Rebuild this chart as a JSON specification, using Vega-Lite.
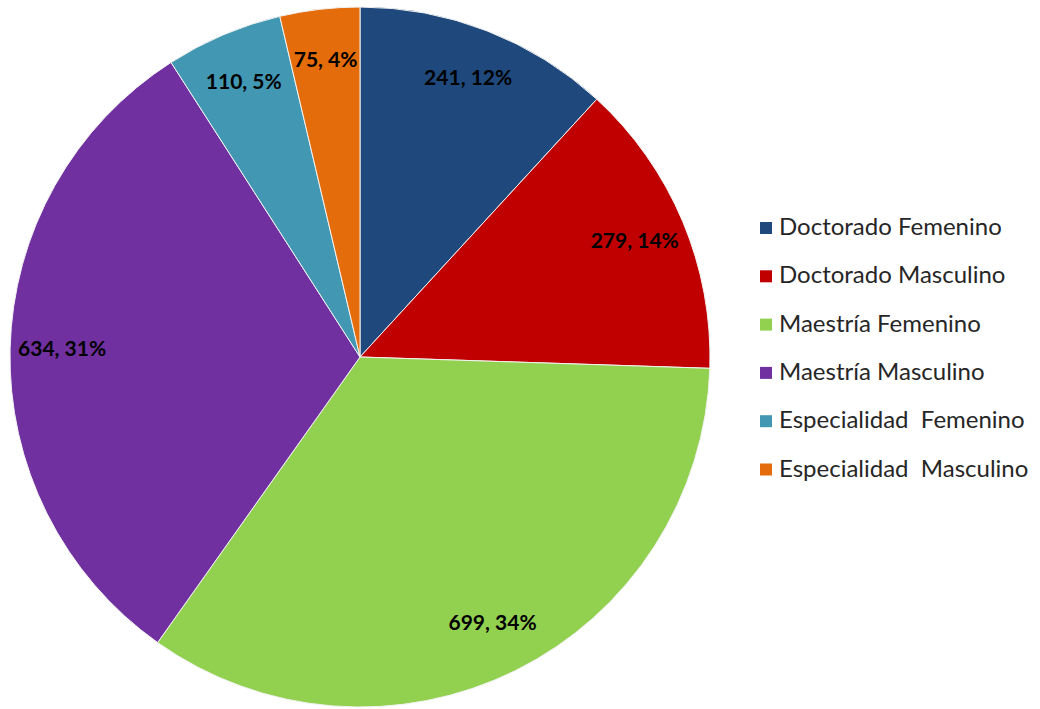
{
  "$schema": "https://vega.github.io/schema/vega-lite/v6.json",
  "width": 720,
  "height": 714,
  "padding": {"left": 0, "top": 0, "right": 5, "bottom": 0},
  "background": "white",
  "data": {
    "values": [
      {"i": 1, "categoria": "Doctorado Femenino", "valor": 241, "etiqueta": "241, 12%"},
      {"i": 2, "categoria": "Doctorado Masculino", "valor": 279, "etiqueta": "279, 14%"},
      {"i": 3, "categoria": "Maestría Femenino", "valor": 699, "etiqueta": "699, 34%"},
      {"i": 4, "categoria": "Maestría Masculino", "valor": 634, "etiqueta": "634, 31%"},
      {"i": 5, "categoria": "Especialidad\u00a0 Femenino", "valor": 110, "etiqueta": "110, 5%"},
      {"i": 6, "categoria": "Especialidad\u00a0 Masculino", "valor": 75, "etiqueta": "75, 4%"}
    ]
  },
  "encoding": {
    "theta": {"field": "valor", "type": "quantitative", "stack": true},
    "order": {"field": "i", "type": "quantitative"},
    "color": {
      "field": "categoria",
      "type": "nominal",
      "sort": ["Doctorado Femenino", "Doctorado Masculino", "Maestría Femenino", "Maestría Masculino", "Especialidad\u00a0 Femenino", "Especialidad\u00a0 Masculino"],
      "scale": {
        "domain": ["Doctorado Femenino", "Doctorado Masculino", "Maestría Femenino", "Maestría Masculino", "Especialidad\u00a0 Femenino", "Especialidad\u00a0 Masculino"],
        "range": ["#1F497D", "#C00000", "#92D050", "#7030A0", "#4298B3", "#E46C0A"]
      },
      "legend": {
        "title": null,
        "orient": "none",
        "legendX": 754,
        "legendY": 216,
        "symbolType": "square",
        "symbolSize": 144,
        "symbolStrokeWidth": 0,
        "labelFont": "Lato",
        "labelFontSize": 24,
        "labelColor": "#262626",
        "labelLimit": 400,
        "labelOffset": 1,
        "rowPadding": 24.3
      }
    }
  },
  "layer": [
    {
      "mark": {"type": "arc", "radius": 350, "stroke": "#f2f2f2", "strokeWidth": 1}
    },
    {
      "mark": {"type": "text", "radius": 298, "font": "Lato", "fontWeight": "bold", "fontSize": 21, "fill": "#000000"},
      "encoding": {
        "text": {"field": "etiqueta", "type": "nominal"},
        "color": {"value": "#000000"}
      }
    }
  ],
  "config": {"view": {"stroke": null}}
}
